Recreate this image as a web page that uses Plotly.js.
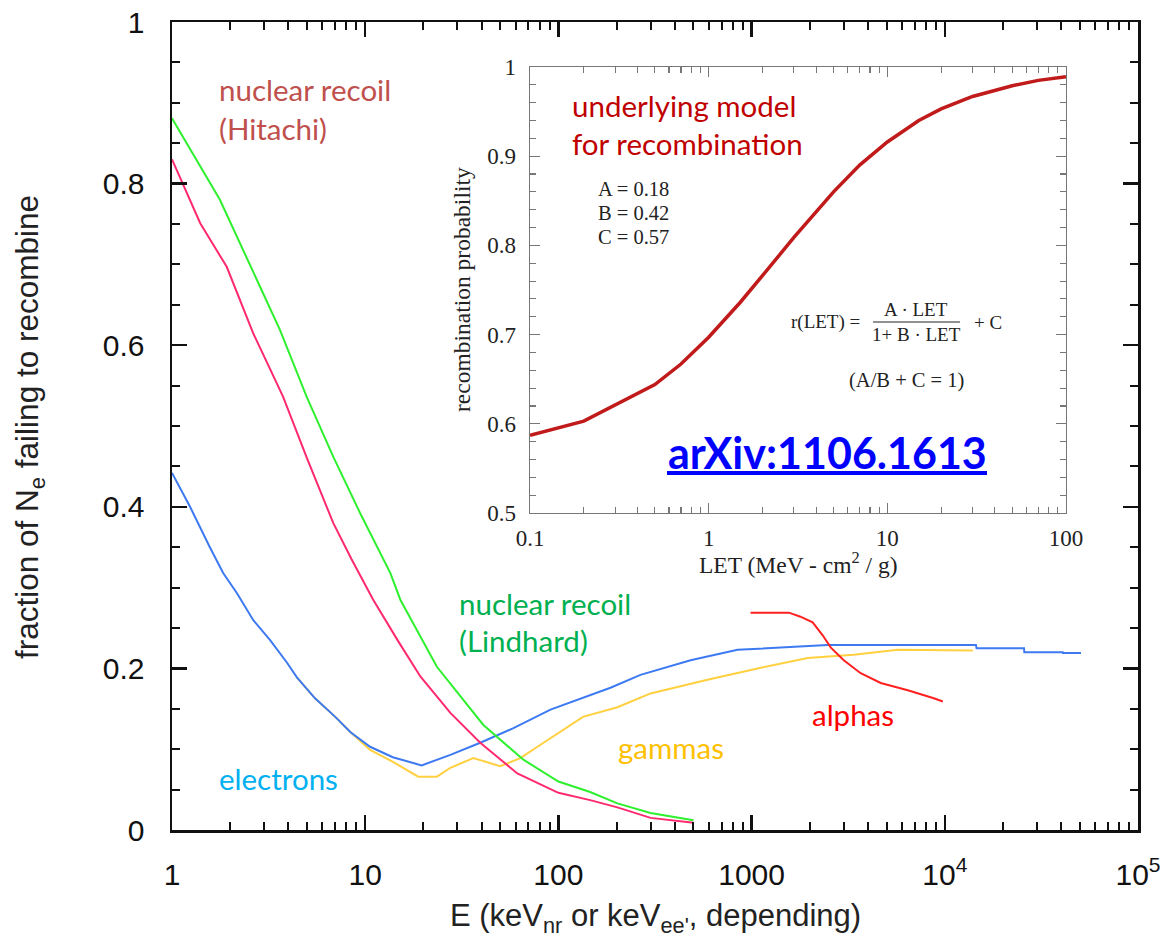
<!DOCTYPE html>
<html>
<head>
<meta charset="utf-8">
<script src="https://cdn.plot.ly/plotly-3.0.1.min.js"></script>
<style>html,body{margin:0;padding:0;background:#fff;}#chart{width:1165px;height:952px;}</style>
</head>
<body>
<div id="chart"></div>
<script>
// ---- main chart data ----
const electronsE = [1, 1.24, 1.57, 1.84, 2.17, 2.63, 3.22, 3.94, 4.43, 5.5, 7, 8.4, 10.6, 13.9, 19.6, 27.6, 39.4, 58.5, 91, 186, 266, 483, 846, 1413, 2476, 9530, 14500, 14600, 25700, 25800, 40800, 40900, 50700];
const electronsF = [0.442, 0.40, 0.35, 0.318, 0.293, 0.26, 0.235, 0.207, 0.189, 0.163, 0.14, 0.121, 0.103, 0.09, 0.08, 0.093, 0.108, 0.126, 0.149, 0.176, 0.192, 0.21, 0.223, 0.226, 0.229, 0.229, 0.229, 0.225, 0.225, 0.22, 0.22, 0.219, 0.219];

const gammasE = [4.43, 5.5, 7, 8.4, 10.6, 14, 18.8, 23.5, 27.6, 36.3, 50, 63.5, 77.9, 106, 134, 202, 300, 591, 1074, 1950, 3375, 5705, 13960];
const gammasF = [0.189, 0.163, 0.14, 0.121, 0.099, 0.084, 0.066, 0.066, 0.077, 0.089, 0.079, 0.089, 0.103, 0.124, 0.14, 0.152, 0.169, 0.186, 0.2, 0.213, 0.217, 0.223, 0.222];

const hitachiE = [1, 1.4, 1.92, 2.63, 3.42, 3.76, 5, 6.83, 8.5, 11, 14.7, 19.3, 27.6, 39.4, 61.3, 100, 146, 202, 300, 500];
const hitachiF = [0.83, 0.751, 0.697, 0.615, 0.557, 0.536, 0.46, 0.38, 0.335, 0.285, 0.235, 0.19, 0.145, 0.108, 0.07, 0.046, 0.037, 0.028, 0.015, 0.009];

const lindhardE = [1, 1.77, 2.86, 3.62, 4.98, 6.83, 9.42, 13.5, 15.2, 23.5, 40.9, 65.9, 100, 146, 202, 300, 500];
const lindhardF = [0.881, 0.78, 0.672, 0.619, 0.536, 0.462, 0.392, 0.318, 0.285, 0.202, 0.13, 0.087, 0.06, 0.047, 0.033, 0.021, 0.012];

const alphasE = [988, 1560, 1790, 2070, 2333, 2566, 2999, 3670, 4660, 6430, 8770, 9770];
const alphasF = [0.269, 0.269, 0.264, 0.257, 0.241, 0.226, 0.21, 0.194, 0.182, 0.173, 0.163, 0.159];

const xTickVals = [1, 10, 100, 1000, 10000, 100000];
const xTickText = ['1', '10', '100', '1000', '10<sup>4</sup>', '10<sup>5</sup>'];
const yTickVals = [0, 0.2, 0.4, 0.6, 0.8, 1];
const yTickText = ['0', '0.2', '0.4', '0.6', '0.8', '1'];

// ---- inset data ----
const letValues = [0.1, 0.2, 0.5, 0.7, 1, 1.5, 2, 3, 5, 7, 10, 15, 20, 30, 50, 70, 100];
const recombProb = [0.587, 0.603, 0.644, 0.667, 0.697, 0.736, 0.766, 0.809, 0.860, 0.890, 0.916, 0.940, 0.953, 0.967, 0.979, 0.985, 0.989];
const insetXTickVals = [0.1, 1, 10, 100];
const insetXTickText = ['0.1', '1', '10', '100'];
const insetYTickVals = [0.5, 0.6, 0.7, 0.8, 0.9, 1];
const insetYTickText = ['0.5', '0.6', '0.7', '0.8', '0.9', '1'];

// ---- layout helpers (pixel -> paper) ----
const L = 172, R = 1138, T = 22, B = 830;
const px = X => (X - L) / (R - L);
const py = Y => (B - Y) / (B - T);

const lw = 2;
const traces = [
  {x: gammasE, y: gammasF, mode: 'lines', line: {color: '#ffd040', width: lw}, name: 'gammas', xaxis: 'x', yaxis: 'y'},
  {x: electronsE, y: electronsF, mode: 'lines', line: {color: '#3d7af2', width: lw}, name: 'electrons', xaxis: 'x', yaxis: 'y'},
  {x: lindhardE, y: lindhardF, mode: 'lines', line: {color: '#2ef02e', width: lw}, name: 'nuclear recoil (Lindhard)', xaxis: 'x', yaxis: 'y'},
  {x: hitachiE, y: hitachiF, mode: 'lines', line: {color: '#ff2a6e', width: lw}, name: 'nuclear recoil (Hitachi)', xaxis: 'x', yaxis: 'y'},
  {x: alphasE, y: alphasF, mode: 'lines', line: {color: '#ff2020', width: lw}, name: 'alphas', xaxis: 'x', yaxis: 'y'},
  {x: letValues, y: recombProb, mode: 'lines', line: {color: '#c01a1a', width: 3.5}, name: 'recombination', xaxis: 'x2', yaxis: 'y2'}
];

const sans = 'Liberation Sans, Arial, sans-serif';
const serif = 'Liberation Serif, Times New Roman, serif';
const cal = 'Lato, Carlito, Calibri, sans-serif';

function ann(text, X, Y, color, size, family, xanchor, extra) {
  return Object.assign({text: text, x: px(X), y: py(Y), xref: 'paper', yref: 'paper', showarrow: false,
    xanchor: xanchor || 'left', yanchor: 'middle', font: {color: color, size: size, family: family}}, extra || {});
}

const cs = 29.5;
const annotations = [
  ann('nuclear recoil', 217, 90, '#c0504d', cs, cal),
  ann('(Hitachi)', 217, 128, '#c0504d', cs, cal),
  ann('nuclear recoil', 457, 603, '#00b050', cs, cal),
  ann('(Lindhard)', 457, 640, '#00b050', cs, cal),
  ann('electrons', 217, 778, '#00b0f0', cs, cal),
  ann('gammas', 616, 747, '#ffc000', cs, cal),
  ann('alphas', 810, 714, '#ff0000', cs, cal),
  ann('underlying model', 570, 106, '#c00000', cs, cal),
  ann('for recombination', 570, 143, '#c00000', cs, cal),
  ann('A = 0.18', 596, 189, '#222', 20.5, serif),
  ann('B = 0.42', 596, 213, '#222', 20.5, serif),
  ann('C = 0.57', 596, 237, '#222', 20.5, serif),
  ann('r(LET) =', 862, 322, '#222', 19, serif, 'right'),
  ann('A · LET', 916, 309, '#222', 19, serif, 'center'),
  ann('1+ B · LET', 916, 334, '#222', 19, serif, 'center'),
  ann('+ C', 972, 322, '#222', 19, serif),
  ann('(A/B + C = 1)', 906, 381, '#222', 20.5, serif, 'center'),
  ann('<b>arXiv:1106.1613</b>', 827, 452, '#0000ff', 43, cal, 'center'),
  ann('LET (MeV - cm<sup>2</sup> / g)', 798, 563, '#222', 23.5, serif, 'center'),
  ann('recombination probability', 462, 290, '#222', 23.5, serif, 'center', {textangle: -90}),
  ann('E (keV<sub>nr</sub> or keV<sub>ee\'</sub>, depending)', 655, 918, '#222', 31, sans, 'center'),
  ann('fraction of N<sub>e</sub> failing to recombine', 29, 427, '#222', 31.5, sans, 'center', {textangle: -90})
];

const shapes = [
  {type: 'line', xref: 'paper', yref: 'paper', x0: px(873), x1: px(960), y0: py(322), y1: py(322), line: {color: '#222', width: 1}},
  {type: 'line', xref: 'paper', yref: 'paper', x0: px(667), x1: px(987), y0: py(473), y1: py(473), line: {color: '#0000ff', width: 4}}
];

const mainAxisCommon = {
  showgrid: false, zeroline: false, showline: true, linecolor: '#111', linewidth: 2.5,
  mirror: 'allticks', ticks: 'inside', ticklen: 15, tickwidth: 2.5, tickcolor: '#111',
  tickfont: {family: sans, size: 30, color: '#111'}, tickmode: 'array'
};
const insetAxisCommon = {
  showgrid: false, zeroline: false, showline: true, linecolor: '#777', linewidth: 1.3,
  mirror: 'allticks', ticks: 'inside', ticklen: 10, tickwidth: 1.3, tickcolor: '#777',
  tickfont: {family: serif, size: 23, color: '#222'}, tickmode: 'array'
};

const layout = {
  width: 1165, height: 952,
  margin: {l: L, r: 1165 - R, t: T, b: 952 - B},
  paper_bgcolor: '#fff', plot_bgcolor: '#fff',
  showlegend: false,
  xaxis: Object.assign({}, mainAxisCommon, {type: 'log', range: [0, 5], tickvals: xTickVals, ticktext: xTickText,
    ticklabelstandoff: 16, domain: [0, 1], anchor: 'y',
    minor: {ticks: 'inside', ticklen: 8, tickwidth: 2, tickcolor: '#111', dtick: 'D1', showgrid: false}}),
  yaxis: Object.assign({}, mainAxisCommon, {range: [0, 1], tickvals: yTickVals, ticktext: yTickText,
    ticklabelstandoff: 19, domain: [0, 1], anchor: 'x',
    minor: {ticks: 'inside', ticklen: 8, tickwidth: 2, tickcolor: '#111', dtick: 0.05, showgrid: false}}),
  xaxis2: Object.assign({}, insetAxisCommon, {type: 'log', range: [-1, 2], tickvals: insetXTickVals, ticktext: insetXTickText,
    ticklabelstandoff: 4, domain: [px(530), px(1066)], anchor: 'y2',
    minor: {ticks: 'inside', ticklen: 6, tickwidth: 1.1, tickcolor: '#777', dtick: 'D1', showgrid: false}}),
  yaxis2: Object.assign({}, insetAxisCommon, {range: [0.5, 1], tickvals: insetYTickVals, ticktext: insetYTickText,
    ticklabelstandoff: 8, domain: [py(513), py(67)], anchor: 'x2',
    minor: {ticks: 'inside', ticklen: 6, tickwidth: 1.1, tickcolor: '#777', dtick: 0.02, showgrid: false}}),
  annotations: annotations,
  shapes: shapes
};

Plotly.newPlot('chart', traces, layout, {staticPlot: true, displayModeBar: false});
</script>
</body>
</html>
